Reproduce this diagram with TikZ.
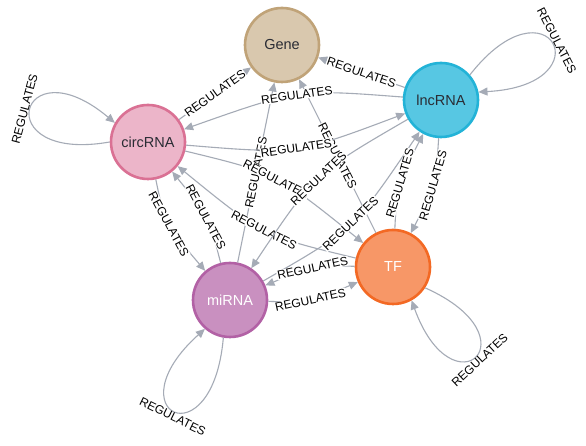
\documentclass[tikz,border=0pt]{standalone}
\usepackage{fontspec}
\setmainfont{Liberation Sans}
\usetikzlibrary{arrows.meta}
\definecolor{edgec}{HTML}{A5ABB6}
\definecolor{genef}{HTML}{D9C8AE}
\definecolor{gened}{HTML}{C0A378}
\definecolor{lncf}{HTML}{57C7E3}
\definecolor{lncd}{HTML}{23B3D7}
\definecolor{circf}{HTML}{ECB5C9}
\definecolor{circd}{HTML}{DA7194}
\definecolor{mirf}{HTML}{C990C0}
\definecolor{mird}{HTML}{B261A5}
\definecolor{tff}{HTML}{F79767}
\definecolor{tfd}{HTML}{F36924}
\definecolor{darktext}{HTML}{2A2C34}
\begin{document}
\begin{tikzpicture}[x=1pt,y=1pt,
  nd/.style={circle, minimum size=74pt, line width=2.6pt, inner sep=0pt,
    font=\fontsize{14.5}{16}\selectfont},
  edge/.style={draw=edgec, line width=1.1pt, -{Triangle[length=9pt,width=8pt]}},
  lab/.style={font=\fontsize{12}{13}\selectfont, fill=white, inner sep=0.6pt,
    sloped, midway, text=black},
  looplab/.style={font=\fontsize{12}{13}\selectfont, inner sep=1pt,
    sloped, pos=0.5, text=black}
]
\useasboundingbox (0,0) rectangle (586,446);
\fill[white] (0,0) rectangle (586,446);

% nodes
\node[nd, fill=genef, draw=gened, text=darktext] (gene) at (282,401) {Gene};
\node[nd, fill=lncf, draw=lncd, text=darktext] (lnc) at (441,346) {lncRNA};
\node[nd, fill=circf, draw=circd, text=darktext] (circ) at (148,304) {circRNA};
\node[nd, fill=mirf, draw=mird, text=white] (mir) at (230,146) {miRNA};
\node[nd, fill=tff, draw=tfd, text=white] (tf) at (393,179) {TF};

% control points of curved edges
\coordinate (k1) at (298,357);
\coordinate (k2) at (296.5,291.7);
\coordinate (k3) at (165,222.3);
\coordinate (k4) at (209,229);
\coordinate (k5) at (276.5,272.8);
\coordinate (k6) at (263.2,210.1);
\coordinate (k7) at (314.8,272.7);
\coordinate (k8) at (353.5,216.7);
\coordinate (k9) at (435.7,260.5);
\coordinate (k10) at (397,261.9);
\coordinate (k11) at (309.5,143.2);
\coordinate (k12) at (313.5,180.5);

% edges to Gene
\draw[edge] (circ) -- node[lab] (e1) {REGULATES} (gene);
\draw[edge] (lnc) -- node[lab] (e2) {REGULATES} (gene);
\draw[edge] (mir) -- node[lab] (e3) {REGULATES} (gene);
\draw[edge] (tf) -- node[lab] (e4) {REGULATES} (gene);

% curved edges
\draw[edge] (lnc) .. controls (k1) .. node[lab] (e5) {REGULATES} (circ);
\draw[edge] (circ) .. controls (k2) .. node[lab] (e6) {REGULATES} (lnc);
\draw[edge] (circ) .. controls (k3) .. node[lab] (e7) {REGULATES} (mir);
\draw[edge] (mir) .. controls (k4) .. node[lab] (e8) {REGULATES} (circ);
\draw[edge] (circ) .. controls (k5) .. node[lab] (e9) {REGULATES} (tf);
\draw[edge] (tf) .. controls (k6) .. node[lab] (e10) {REGULATES} (circ);
\draw[edge] (lnc) .. controls (k7) .. node[lab] (e11) {REGULATES} (mir);
\draw[edge] (mir) .. controls (k8) .. node[lab] (e12) {REGULATES} (lnc);
\draw[edge] (lnc) .. controls (k9) .. node[lab] (e13) {REGULATES} (tf);
\draw[edge] (tf) .. controls (k10) .. node[lab] (e14) {REGULATES} (lnc);
\draw[edge] (mir) .. controls (k11) .. node[lab] (e15) {REGULATES} (tf);
\draw[edge] (tf) .. controls (k12) .. node[lab] (e16) {REGULATES} (mir);

% self loops
\draw[edge] (circ.180) .. controls +(190:125) and +(140:125) .. node[looplab, above] (e17) {REGULATES} (circ.150);
\draw[edge] (lnc.41) .. controls +(52:128) and +(3:128) .. node[looplab, above] (e18) {REGULATES} (lnc.12);
\draw[edge] (mir.260) .. controls +(265:125) and +(222:125) .. node[looplab, below] (e19) {REGULATES} (mir.229);
\draw[edge] (tf.-33) .. controls +(-24:122) and +(-70:122) .. node[looplab, below] (e20) {REGULATES} (tf.-61);
\end{tikzpicture}
\end{document}
